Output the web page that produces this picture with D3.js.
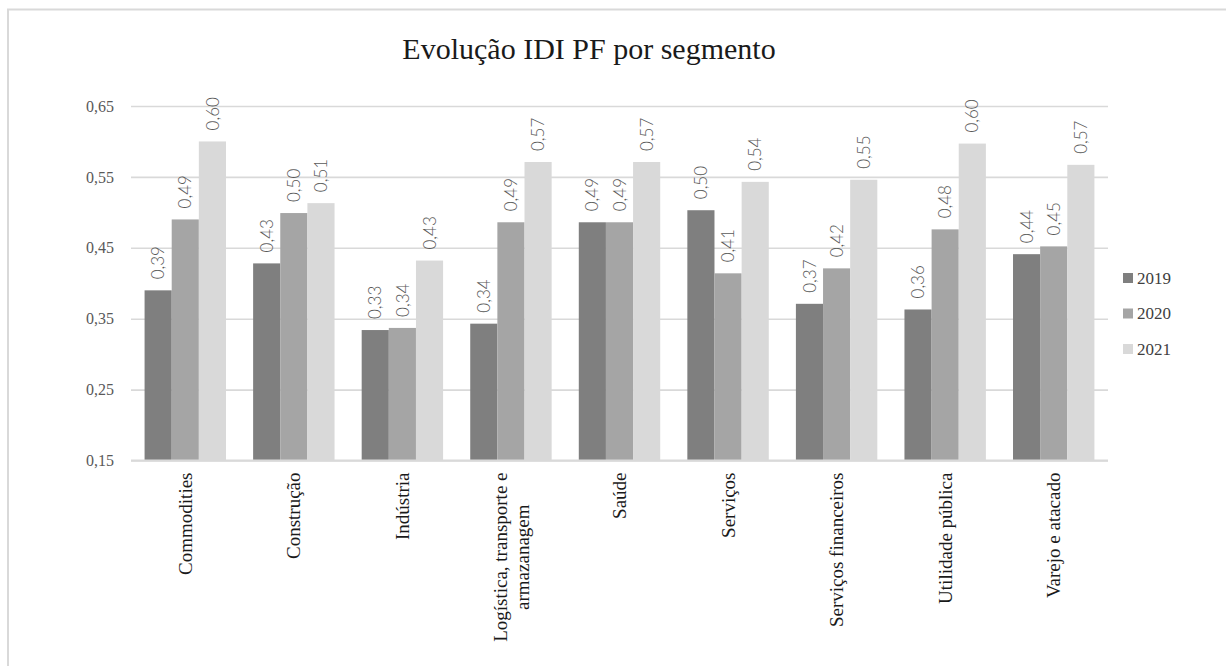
<!DOCTYPE html>
<html>
<head>
<meta charset="utf-8">
<script src="https://cdn.jsdelivr.net/npm/d3@7"></script>
<style>
  html, body { margin: 0; padding: 0; background: #fff; }
  svg { display: block; }
</style>
</head>
<body>
<svg id="chart" width="1226" height="666"></svg>
<script>
// Segments (category axis)
const categories = [
  "Commodities",
  "Construção",
  "Indústria",
  "Logística, transporte e|armazanagem",
  "Saúde",
  "Serviços",
  "Serviços financeiros",
  "Utilidade pública",
  "Varejo e atacado"
];

// Series
const seriesNames = ["2019", "2020", "2021"];
const values2019 = [0.390, 0.428, 0.334, 0.343, 0.486, 0.503, 0.371, 0.363, 0.441];
const values2020 = [0.490, 0.499, 0.337, 0.486, 0.486, 0.414, 0.421, 0.476, 0.452];
const values2021 = [0.600, 0.513, 0.432, 0.571, 0.571, 0.543, 0.546, 0.597, 0.567];
const seriesValues = [values2019, values2020, values2021];
const seriesColors = ["#7f7f7f", "#a5a5a5", "#d9d9d9"];

// Value axis ticks
const yTicks = [0.15, 0.25, 0.35, 0.45, 0.55, 0.65];

const title = "Evolução IDI PF por segmento";

const SERIF = '"Liberation Serif"';
const LIGHT = '"Lato"';

const svg = d3.select("#chart");

// Outer chart frame
svg.append("rect")
  .attr("x", 8).attr("y", 9.5)
  .attr("width", 1240).attr("height", 700)
  .attr("fill", "none")
  .attr("stroke", "#d9d9d9")
  .attr("stroke-width", 2);

const plot = { left: 131, right: 1108, top: 106, bottom: 460.5 };

const x = d3.scaleBand()
  .domain(categories)
  .range([plot.left, plot.right])
  .paddingInner(0).paddingOuter(0);

const xs = d3.scaleBand()
  .domain(seriesNames)
  .range([x.bandwidth() / 8, x.bandwidth() * 7 / 8])
  .padding(0);

const y = d3.scaleLinear()
  .domain([0.15, 0.65])
  .range([plot.bottom, plot.top]);

const fmt = v => d3.format(".2f")(v).replace(".", ",");

// Title
svg.append("text")
  .attr("x", 589).attr("y", 59)
  .attr("text-anchor", "middle")
  .style("font-family", SERIF)
  .style("font-size", "30px")
  .attr("fill", "#1a1a1a")
  .text(title);

// Gridlines and value axis labels
const yAxis = d3.axisLeft(y)
  .tickValues(yTicks)
  .tickSize(-(plot.right - plot.left))
  .tickPadding(17)
  .tickFormat(fmt);

const gy = svg.append("g")
  .attr("transform", `translate(${plot.left},0)`)
  .call(yAxis);
gy.select(".domain").remove();
gy.selectAll(".tick line")
  .attr("stroke", "#d9d9d9")
  .attr("stroke-width", 1.6);
gy.selectAll(".tick text")
  .style("font-family", SERIF)
  .style("font-size", "16px")
  .attr("fill", "#595959");

// Bars
const groups = svg.append("g")
  .selectAll("g")
  .data(categories)
  .join("g")
  .attr("transform", d => `translate(${x(d)},0)`);

seriesNames.forEach((s, si) => {
  groups.append("rect")
    .attr("x", xs(s))
    .attr("width", xs.bandwidth())
    .attr("y", (d, i) => y(seriesValues[si][i]))
    .attr("height", (d, i) => y(0.15) - y(seriesValues[si][i]))
    .attr("fill", seriesColors[si]);
});

// Category baseline
svg.append("line")
  .attr("x1", plot.left).attr("x2", plot.right)
  .attr("y1", y(0.15)).attr("y2", y(0.15))
  .attr("stroke", "#d9d9d9")
  .attr("stroke-width", 2);

// Data labels (rotated)
seriesNames.forEach((s, si) => {
  groups.append("text")
    .attr("transform", (d, i) =>
      `translate(${xs(s) + xs.bandwidth() / 2},${y(seriesValues[si][i]) - 11}) rotate(-90)`)
    .attr("dy", "0.36em")
    .attr("text-anchor", "start")
    .style("font-family", LIGHT)
    .style("font-weight", "300")
    .style("font-size", "17px")
    .attr("fill", "#595959")
    .text((d, i) => fmt(seriesValues[si][i]));
});

// Category labels (rotated, multi-line centered on the widest line)
const lineH = 22;
categories.forEach(c => {
  const lines = c.split("|");
  const cx = x(c) + x.bandwidth() / 2;
  const g = svg.append("g")
    .attr("transform", `translate(${cx},${plot.bottom + 12}) rotate(-90)`);
  const texts = lines.map((ln, li) =>
    g.append("text")
      .attr("y", (li - (lines.length - 1) / 2) * lineH)
      .attr("dy", "0.35em")
      .style("font-family", SERIF)
      .style("font-size", "19px")
      .attr("fill", "#1a1a1a")
      .text(ln)
  );
  const maxW = d3.max(texts, t => t.node().getComputedTextLength());
  texts.forEach(t => {
    t.attr("text-anchor", "middle").attr("x", -maxW / 2);
  });
});

// Legend
const legend = svg.append("g");
seriesNames.forEach((s, si) => {
  const ly = 278 + si * 35.5;
  legend.append("rect")
    .attr("x", 1123).attr("y", ly - 5)
    .attr("width", 10).attr("height", 10)
    .attr("fill", seriesColors[si]);
  legend.append("text")
    .attr("x", 1137).attr("y", ly)
    .attr("dy", "0.35em")
    .style("font-family", SERIF)
    .style("font-size", "17px")
    .attr("fill", "#404040")
    .text(s);
});
</script>
</body>
</html>
